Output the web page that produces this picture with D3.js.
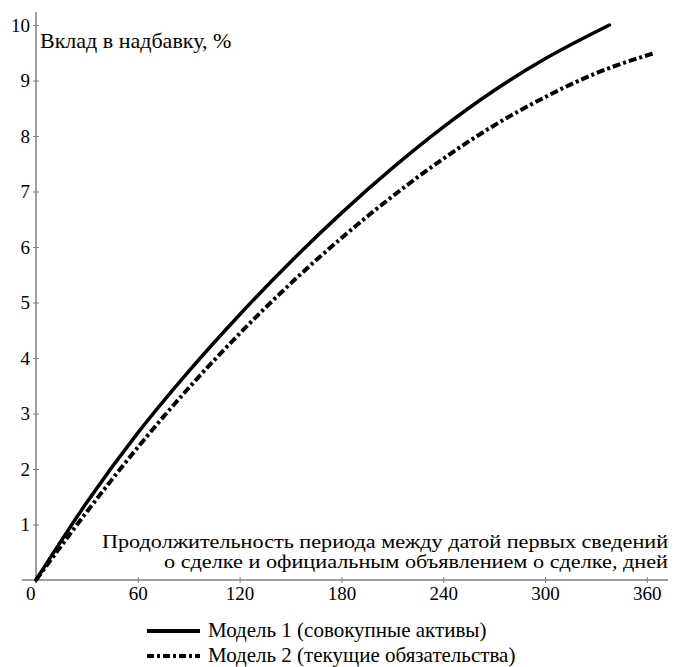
<!DOCTYPE html>
<html>
<head>
<meta charset="utf-8">
<script src="https://cdn.jsdelivr.net/npm/d3@7"></script>
<style>
  body { margin: 0; background: #fff; }
  svg text { font-family: "Liberation Serif", "Tinos", "Times New Roman", "DejaVu Serif", serif; fill: #000; }
</style>
</head>
<body>
<script>
// data
var days1 = [0, 30, 60, 90, 120, 150, 180, 210, 240, 270, 300, 338];
var model1 = [0, 1.4, 2.65, 3.76, 4.78, 5.73, 6.61, 7.42, 8.16, 8.82, 9.39, 10.0];
var days2 = [0, 30, 60, 90, 120, 150, 180, 210, 240, 270, 300, 330, 365];
var model2 = [0, 1.23, 2.39, 3.46, 4.44, 5.34, 6.16, 6.91, 7.59, 8.19, 8.7, 9.13, 9.5];
var xTicks = [0, 60, 120, 180, 240, 300, 360];
var yTicks = [1, 2, 3, 4, 5, 6, 7, 8, 9, 10];
var legendNames = ["Модель 1 (совокупные активы)", "Модель 2 (текущие обязательства)"];

var width = 675, height = 667;
var tickFs = "19px", titleFs = "18px";

var x = d3.scaleLinear().domain([0, 360]).range([36, 646.8]);
var y = d3.scaleLinear().domain([0, 10]).range([580, 25]);

var svg = d3.select("body").append("svg")
    .attr("width", width)
    .attr("height", height);

// axes lines (extend beyond the tick range)
svg.append("line")
    .attr("x1", 22).attr("x2", 668)
    .attr("y1", y(0)).attr("y2", y(0))
    .attr("stroke", "#808080").attr("stroke-width", 1.5);
svg.append("line")
    .attr("x1", x(0)).attr("x2", x(0))
    .attr("y1", 12).attr("y2", 583)
    .attr("stroke", "#808080").attr("stroke-width", 1.5);

// y axis
var gy = svg.append("g")
    .attr("transform", "translate(" + x(0) + ",0)")
    .call(d3.axisLeft(y).tickValues(yTicks).tickSize(3).tickPadding(3));
gy.select(".domain").remove();
gy.selectAll(".tick line").attr("x1", 3).attr("stroke", "#808080");
gy.selectAll(".tick text").style("font-size", tickFs);

// x axis
var gx = svg.append("g")
    .attr("transform", "translate(0," + y(0) + ")")
    .call(d3.axisBottom(x).tickValues(xTicks).tickSize(3).tickPadding(4));
gx.select(".domain").remove();
gx.selectAll(".tick line").attr("y1", -3).attr("stroke", "#808080");
gx.selectAll(".tick text").style("font-size", tickFs);
gx.selectAll(".tick text").filter(function(d) { return d === 0; })
    .attr("text-anchor", "end").attr("dx", "-1");

// axis titles
svg.append("text")
    .attr("x", 40).attr("y", 48)
    .style("font-size", "22px")
    .text("Вклад в надбавку, %");

svg.append("text")
    .attr("x", 668).attr("y", 548)
    .attr("text-anchor", "end")
    .style("font-size", titleFs)
    .attr("textLength", 566)
    .attr("lengthAdjust", "spacingAndGlyphs")
    .text("Продолжительность периода между датой первых сведений");
svg.append("text")
    .attr("x", 668).attr("y", 568)
    .attr("text-anchor", "end")
    .style("font-size", titleFs)
    .attr("textLength", 504)
    .attr("lengthAdjust", "spacingAndGlyphs")
    .text("о сделке и официальным объявлением о сделке, дней");

// lines
var line = d3.line()
    .x(function(d) { return x(d[0]); })
    .y(function(d) { return y(d[1]); })
    .curve(d3.curveMonotoneX);

svg.append("path")
    .datum(d3.zip(days1, model1))
    .attr("fill", "none")
    .attr("stroke", "#000")
    .attr("stroke-width", 3.5)
    .attr("stroke-linecap", "round")
    .attr("d", line);

svg.append("path")
    .datum(d3.zip(days2, model2))
    .attr("fill", "none")
    .attr("stroke", "#000")
    .attr("stroke-width", 4)
    .attr("stroke-dasharray", "8,3,3,3")
    .attr("d", line);

// legend
var legend = svg.append("g");
legendNames.forEach(function(name, i) {
  var ly = 631 + i * 25;
  legend.append("line")
      .attr("x1", 147).attr("x2", 200)
      .attr("y1", ly).attr("y2", ly)
      .attr("stroke", "#000")
      .attr("stroke-width", 4)
      .attr("stroke-dasharray", i === 0 ? null : "7,3,3,3");
  legend.append("text")
      .attr("x", 208).attr("y", ly + 6)
      .style("font-size", "21px")
      .text(name);
});
</script>
</body>
</html>
